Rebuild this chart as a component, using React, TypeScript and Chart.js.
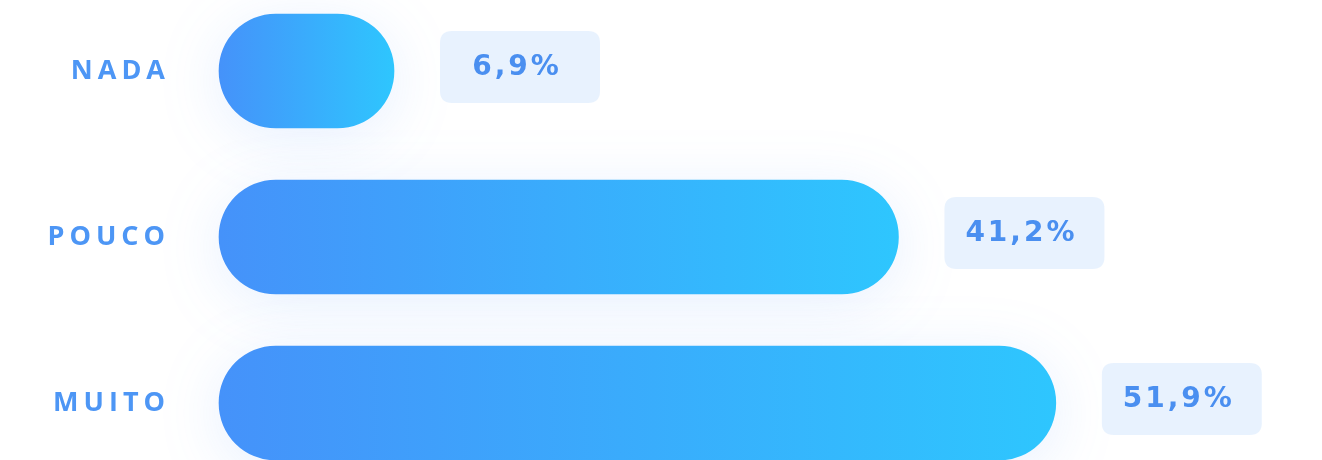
import React, { useEffect, useRef } from "react";
import { Chart, registerables } from "chart.js";

Chart.register(...registerables);

const categories: string[] = ["NADA", "POUCO", "MUITO"];
const values: number[] = [6.9, 41.2, 51.9];
const axisMin = -5;
const axisMax = 70;

const LABEL_COLOR = "#4d96f5";
const VALUE_COLOR = "#4a8ff0";
const BOX_COLOR = "rgba(226, 239, 254, 0.8)";
const GRAD_START = "#4592fa";
const GRAD_END = "#2ec6fe";

function roundRect(ctx: CanvasRenderingContext2D, x: number, y: number, w: number, h: number, r: number) {
  ctx.beginPath();
  ctx.moveTo(x + r, y);
  ctx.lineTo(x + w - r, y);
  ctx.quadraticCurveTo(x + w, y, x + w, y + r);
  ctx.lineTo(x + w, y + h - r);
  ctx.quadraticCurveTo(x + w, y + h, x + w - r, y + h);
  ctx.lineTo(x + r, y + h);
  ctx.quadraticCurveTo(x, y + h, x, y + h - r);
  ctx.lineTo(x, y + r);
  ctx.quadraticCurveTo(x, y, x + r, y);
  ctx.closePath();
}

const glowPlugin = {
  id: "glow",
  beforeDraw(chart: any) {
    (chart.ctx as any).letterSpacing = "5px";
  },
  beforeDatasetsDraw(chart: any) {
    const ctx = chart.ctx;
    ctx.save();
    ctx.shadowColor = "rgba(70, 140, 250, 0.13)";
    ctx.shadowBlur = 60;
    ctx.shadowOffsetY = 10;
  },
  afterDatasetsDraw(chart: any) {
    chart.ctx.restore();
  },
  afterDraw(chart: any) {
    (chart.ctx as any).letterSpacing = "0px";
  },
};

const valueLabelPlugin = {
  id: "valueLabels",
  afterDatasetsDraw(chart: any) {
    const ctx: CanvasRenderingContext2D = chart.ctx;
    const meta = chart.getDatasetMeta(0);
    const data = chart.data.datasets[0].data as number[];
    meta.data.forEach((el: any, i: number) => {
      const boxW = 160;
      const boxH = 72;
      const left = el.x + 46;
      const cy = el.y - 4;
      ctx.save();
      ctx.fillStyle = BOX_COLOR;
      roundRect(ctx, left, cy - boxH / 2, boxW, boxH, 12);
      ctx.fill();
      const txt = data[i].toFixed(1).replace(".", ",") + "%";
      (ctx as any).letterSpacing = "3px";
      ctx.font = "700 28px 'DejaVu Sans', sans-serif";
      ctx.fillStyle = VALUE_COLOR;
      ctx.textAlign = "center";
      ctx.textBaseline = "middle";
      ctx.fillText(txt, left + boxW / 2 - 3, cy + 1);
      ctx.restore();
    });
  },
};

export default function App() {
  const canvasRef = useRef<HTMLCanvasElement | null>(null);

  useEffect(() => {
    if (!canvasRef.current) return;
    const chart = new Chart(canvasRef.current, {
      type: "bar",
      data: {
        labels: categories,
        datasets: [
          {
            data: values,
            base: axisMin,
            barThickness: 114,
            borderRadius: 57,
            borderSkipped: false,
            clip: false as any,
            backgroundColor: (c: any) => {
              const ch = c.chart;
              if (!ch.chartArea || c.type !== "data") return GRAD_START;
              const xs = ch.scales.x;
              const x0 = xs.getPixelForValue(axisMin);
              const x1 = xs.getPixelForValue(c.raw);
              const g = ch.ctx.createLinearGradient(x0, 0, x1, 0);
              g.addColorStop(0, GRAD_START);
              g.addColorStop(1, GRAD_END);
              return g;
            },
          } as any,
        ],
      },
      options: {
        indexAxis: "y",
        animation: false,
        responsive: true,
        maintainAspectRatio: false,
        layout: { padding: { top: 71, bottom: 57, left: 0, right: 0 } },
        plugins: {
          legend: { display: false },
          tooltip: { enabled: false },
        },
        scales: {
          x: {
            type: "linear",
            display: false,
            min: axisMin,
            max: axisMax,
          },
          y: {
            type: "category",
            offset: false,
            grid: { display: false, drawTicks: false },
            border: { display: false },
            ticks: {
              padding: 49,
              color: LABEL_COLOR,
              font: { family: "'Open Sans', sans-serif", size: 27, weight: "700" as any, lineHeight: 0.5 },
            },
            afterFit: (scale: any) => {
              scale.width = 219;
            },
          },
        },
      },
      plugins: [glowPlugin, valueLabelPlugin],
    });
    return () => chart.destroy();
  }, []);

  return (
    <div style={{ position: "absolute", left: 0, top: 0, width: 1322, height: 460, background: "#ffffff" }}>
      <canvas ref={canvasRef} />
    </div>
  );
}
